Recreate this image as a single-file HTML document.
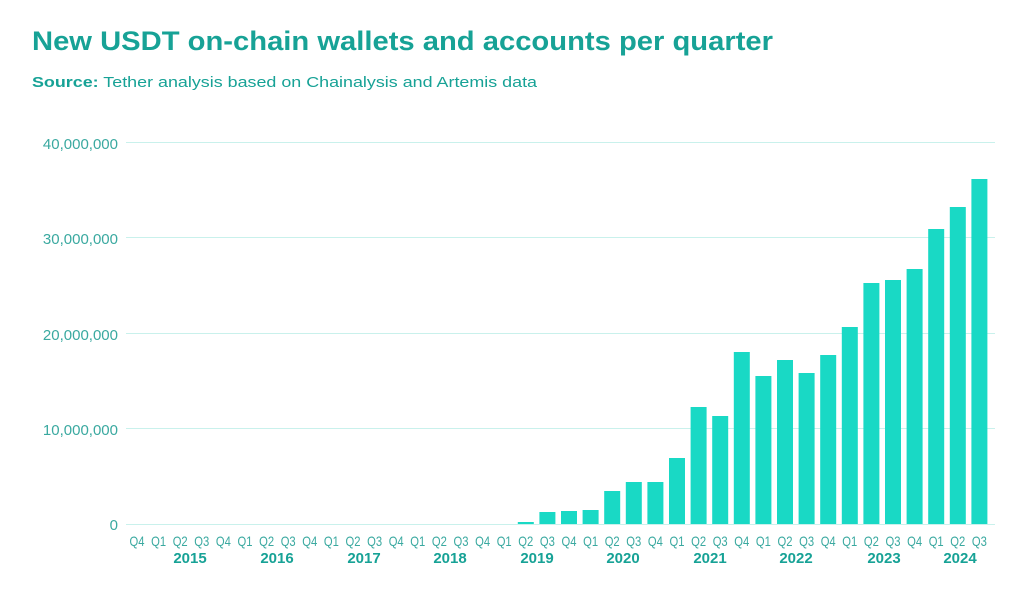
<!DOCTYPE html>
<html><head><meta charset="utf-8"><style>
body{margin:0;background:#fff;width:1024px;height:596px;overflow:hidden;font-family:"Liberation Sans",sans-serif}
</style></head><body>
<svg width="1024" height="596" xmlns="http://www.w3.org/2000/svg" font-family="Liberation Sans, sans-serif">
<text x="32" y="50" font-size="27" font-weight="bold" fill="#17a296" textLength="741" lengthAdjust="spacingAndGlyphs">New USDT on-chain wallets and accounts per quarter</text>
<text x="32" y="87" font-size="15" fill="#17a296" textLength="505" lengthAdjust="spacingAndGlyphs"><tspan font-weight="bold">Source:</tspan> Tether analysis based on Chainalysis and Artemis data</text>
<g stroke="#c9f1ec" stroke-width="1">
<line x1="126" x2="995" y1="142.5" y2="142.5"/>
<line x1="126" x2="995" y1="237.5" y2="237.5"/>
<line x1="126" x2="995" y1="333.5" y2="333.5"/>
<line x1="126" x2="995" y1="428.5" y2="428.5"/>
<line x1="126" x2="995" y1="524.5" y2="524.5"/>
</g>
<g font-size="15" fill="#3aa9a0" text-anchor="end">
<text x="118" y="149">40,000,000</text>
<text x="118" y="244">30,000,000</text>
<text x="118" y="340">20,000,000</text>
<text x="118" y="435">10,000,000</text>
<text x="118" y="530">0</text>
</g>
<g id="bars" fill="#19d9c5"></g>
<g id="ql" font-size="14" fill="#3aa9a0" text-anchor="middle"></g>
<g font-size="15" font-weight="bold" fill="#17a296" text-anchor="middle">
<text x="190" y="563">2015</text><text x="277" y="563">2016</text><text x="364" y="563">2017</text>
<text x="450" y="563">2018</text><text x="537" y="563">2019</text><text x="623" y="563">2020</text>
<text x="710" y="563">2021</text><text x="796" y="563">2022</text><text x="884" y="563">2023</text>
<text x="960" y="563">2024</text>
</g>
</svg>
<script>
var tops=[524,524,524,524,524,524,524,524,524,524,524,524,524,524,524,524,524,524,522,512,511,510,491,482,482,458,407,416,352,376,360,373,355,327,283,280,269,229,207,179];
var b=document.getElementById('bars'),q=document.getElementById('ql'),ns='http://www.w3.org/2000/svg';
var lab=['Q4','Q1','Q2','Q3'];
for(var i=0;i<40;i++){var cx=137+21.6*i;
if(tops[i]<524){var r=document.createElementNS(ns,'rect');r.setAttribute('x',cx-8);r.setAttribute('y',tops[i]);r.setAttribute('width',16);r.setAttribute('height',524-tops[i]);b.appendChild(r);}
var t=document.createElementNS(ns,'text');t.setAttribute('x',cx);t.setAttribute('y',546);t.setAttribute('textLength',15);t.setAttribute('lengthAdjust','spacingAndGlyphs');t.textContent=lab[i%4];q.appendChild(t);}
</script>
</body></html>
